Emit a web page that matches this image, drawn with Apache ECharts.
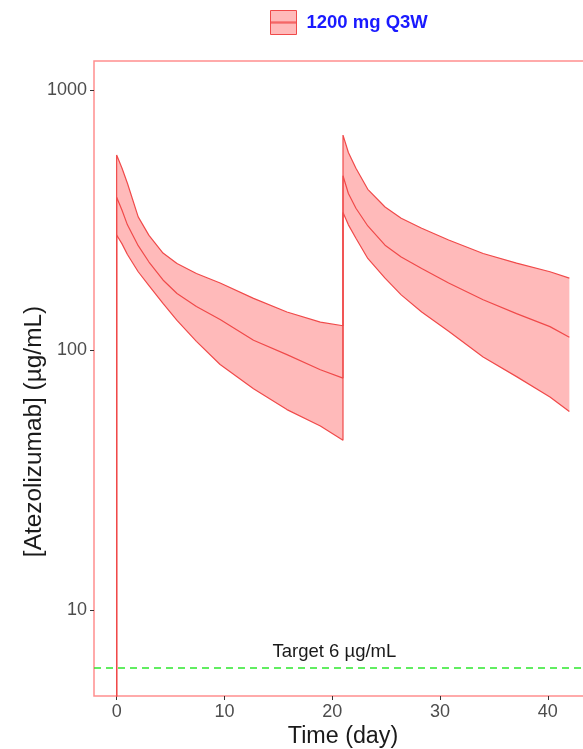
<!DOCTYPE html>
<html>
<head>
<meta charset="utf-8">
<script src="https://cdn.jsdelivr.net/npm/echarts@6/dist/echarts.min.js"></script>
<style>
  html, body { margin: 0; padding: 0; background: #ffffff; overflow: hidden; }
  #chart { width: 583px; height: 749px; }
</style>
</head>
<body>
<div id="chart"></div>
<script>
// Atezolizumab 1200 mg every 3 weeks: simulated median and 90% interval
const DOSE_NAME = '1200 mg Q3W';
const TARGET = 6;
const TARGET_LABEL = 'Target 6 \u00b5g/mL';
const PRE_DOSE = 0.01; // concentration before the first infusion (below the axis)

// Cycle 1 (day 0 to 21)
const cycle1Time   = [0, 0.5, 1, 2, 3, 4.3, 5.6, 7.4, 9.6, 12.7, 15.8, 18.9, 21];
const cycle1Upper  = [562, 500, 438, 325, 276, 236, 215, 197, 181, 158, 140, 128, 124];
const cycle1Median = [387, 345, 303, 252, 218, 186, 165, 147, 131, 109, 96, 84, 78];
const cycle1Lower  = [277, 256, 233, 200, 177, 151, 130, 108, 88, 71, 59, 51, 45];

// Cycle 2 (day 21 to 42)
const cycle2Time   = [21, 21.5, 22.2, 23.3, 24.9, 26.4, 28.3, 30.8, 34, 37.1, 40.2, 42];
const cycle2Upper  = [671, 575, 500, 415, 355, 321, 294, 265, 235, 216, 200, 189];
const cycle2Median = [468, 400, 351, 300, 253, 228, 206, 181, 156, 138, 123, 112];
const cycle2Lower  = [338, 303, 269, 225, 189, 163, 140, 118, 94, 79, 66, 58];

// Axis ticks
const xTicks = [0, 10, 20, 30, 40];
const yTicks = [10, 100, 1000];

const cycles = [
  { time: cycle1Time, upper: cycle1Upper, median: cycle1Median, lower: cycle1Lower },
  { time: cycle2Time, upper: cycle2Upper, median: cycle2Median, lower: cycle2Lower }
];

function profile(key) {
  const pts = [[0, PRE_DOSE]];
  cycles.forEach(c => c.time.forEach((t, i) => pts.push([t, c[key][i]])));
  return pts;
}

const FONT = '"Liberation Sans", Arial, sans-serif';
const LINE_COLOR = '#f04a4a';
const FILL_COLOR = 'rgba(255, 0, 0, 0.27)';

const lineSeries = (key) => ({
  name: DOSE_NAME,
  type: 'line',
  data: profile(key),
  showSymbol: false,
  symbol: 'none',
  clip: true,
  z: 3,
  lineStyle: { color: LINE_COLOR, width: 1.2 },
  itemStyle: { color: LINE_COLOR },
  emphasis: { disabled: true },
  animation: false
});

const chart = echarts.init(document.getElementById('chart'), null, { renderer: 'canvas', width: 583, height: 749 });

chart.setOption({
  animation: false,
  backgroundColor: '#ffffff',
  textStyle: { fontFamily: FONT },
  legend: {
    top: 10,
    left: 270,
    padding: 0,
    itemWidth: 26,
    itemHeight: 24,
    selectedMode: false,
    data: [{
      name: DOSE_NAME,
      icon: 'path://M0,0H26V24H0Z M0,11.5H26V12.5H0Z',
      itemStyle: { color: FILL_COLOR, borderColor: LINE_COLOR, borderWidth: 1 }
    }],
    textStyle: {
      fontFamily: FONT,
      fontSize: 18.5,
      fontWeight: 'bold',
      color: '#1a1aff',
      padding: [0, 0, 0, 5]
    }
  },
  grid: {
    left: 94,
    top: 61,
    width: 498,
    height: 635,
    containLabel: false,
    outerBoundsMode: 'none',
    show: true,
    borderColor: '#ff8f8f',
    borderWidth: 1.5,
    backgroundColor: 'transparent'
  },
  xAxis: {
    type: 'value',
    min: -2.1,
    max: 44.1,
    name: 'Time (day)',
    nameLocation: 'middle',
    nameGap: 29,
    nameMoveOverlap: false,
    nameTextStyle: { fontFamily: FONT, fontSize: 23.3, color: '#1a1a1a' },
    axisLine: { show: false, onZero: false },
    axisTick: { show: true, length: 4, customValues: xTicks, lineStyle: { color: '#333333', width: 1 } },
    axisLabel: { customValues: xTicks, margin: 7, fontFamily: FONT, fontSize: 18, color: '#4d4d4d' },
    splitLine: { show: false }
  },
  yAxis: {
    type: 'log',
    logBase: 10,
    min: 4.67,
    max: 1293,
    name: '[Atezolizumab] (\u00b5g/mL)',
    nameLocation: 'middle',
    nameGap: 48,
    nameRotate: 90,
    nameMoveOverlap: false,
    nameTextStyle: { fontFamily: FONT, fontSize: 24.4, color: '#1a1a1a', padding: [0, 106, 0, 0] },
    axisLine: { show: false, onZero: false },
    axisTick: { show: true, length: 4, customValues: yTicks, lineStyle: { color: '#333333', width: 1 } },
    axisLabel: {
      customValues: yTicks,
      margin: 7,
      fontFamily: FONT,
      fontSize: 18,
      color: '#4d4d4d',
      formatter: v => String(Math.round(v))
    },
    splitLine: { show: false }
  },
  series: [
    {
      // shaded interval, one polygon per dosing cycle
      name: DOSE_NAME,
      type: 'custom',
      z: 2,
      clip: true,
      data: cycles.map(c => [c.time[0], c.median[0]]),
      encode: { x: 0, y: 1 },
      renderItem: function (params, api) {
        const c = cycles[params.dataIndex];
        const pts = [];
        for (let i = 0; i < c.time.length; i++) pts.push(api.coord([c.time[i], c.upper[i]]));
        for (let i = c.time.length - 1; i >= 0; i--) pts.push(api.coord([c.time[i], c.lower[i]]));
        return {
          type: 'polygon',
          shape: { points: pts },
          style: { fill: FILL_COLOR, stroke: null }
        };
      },
      itemStyle: { color: FILL_COLOR },
      animation: false
    },
    lineSeries('upper'),
    lineSeries('median'),
    lineSeries('lower'),
    {
      name: 'target',
      type: 'scatter',
      data: [[20.2, TARGET]],
      symbolSize: 0.1,
      itemStyle: { opacity: 0 },
      z: 4,
      label: {
        show: true,
        position: 'top',
        distance: 6,
        formatter: TARGET_LABEL,
        fontFamily: FONT,
        fontSize: 18.5,
        color: '#1a1a1a',
        opacity: 1
      },
      emphasis: { disabled: true },
      markLine: {
        silent: true,
        symbol: 'none',
        label: { show: false },
        lineStyle: { color: '#2ee82e', width: 1.5, type: [7, 5] },
        data: [{ yAxis: TARGET }]
      }
    }
  ]
});
</script>
</body>
</html>
